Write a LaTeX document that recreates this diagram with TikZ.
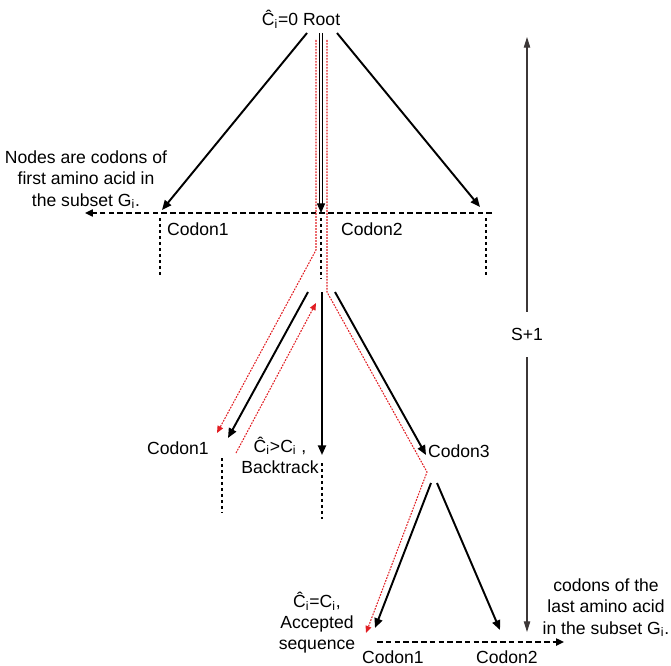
\documentclass[tikz,border=0pt]{standalone}
\usepackage{fontspec}
\setmainfont{Liberation Sans}
\usetikzlibrary{arrows.meta}
\definecolor{tracered}{RGB}{225,30,35}
\definecolor{spangray}{RGB}{60,55,55}

\begin{document}
\begin{tikzpicture}[x=0.02cm,y=-0.02cm,
    branch/.style={line width=1.1pt,-{Triangle[length=5.5pt,width=4.6pt]}},
    levelline/.style={line width=1.1pt,dash pattern=on 3.2pt off 1.8pt,-{Triangle[length=4.5pt,width=4pt]}},
    stub/.style={line width=1.1pt,dash pattern=on 1.7pt off 1.7pt},
    trace/.style={tracered,line width=0.6pt,dash pattern=on 1pt off 0.7pt,-{Triangle[length=4pt,width=3.4pt]}},
    lbl/.style={font=\fontsize{10}{12}\selectfont,inner sep=1pt,align=center}]
  \useasboundingbox (0,0) rectangle (671,665);

  %% Root
  \node[lbl] (root) at (301,19) {Ĉ\textsubscript{i}=0 Root};
  \coordinate (r1) at (307,33);
  \coordinate (r2) at (321,33);
  \coordinate (r3) at (337,33);

  %% First level
  \coordinate (a1) at (162,210);
  \coordinate (a2) at (321,213);
  \coordinate (a3) at (480,207);
  \draw[branch] (r1) -- (a1);
  \draw[branch,double=white,double distance=0.9pt,line width=0.6pt] (r2) -- (a2);
  \draw[branch] (r3) -- (a3);
  \coordinate (hR) at (492,213);
  \coordinate (hL) at (85,213);
  \draw[levelline] (hR) -- (hL);
  \draw[stub] (160,218) -- (160,277);
  \draw[stub] (321,218) -- (321,279);
  \draw[stub] (486,218) -- (486,277);
  \node[lbl] (c11) at (198,229) {Codon1};
  \node[lbl] (c12) at (372,229) {Codon2};
  \node[lbl] (note1) at (86,180) {Nodes are codons of\\first amino acid in\\the subset G\textsubscript{i}.};

  %% Second level
  \coordinate (b0) at (308,292);
  \coordinate (b1) at (228,438);
  \coordinate (m0) at (322,292);
  \coordinate (m1) at (322,455);
  \coordinate (d0) at (335,292);
  \coordinate (d1) at (426,455);
  \draw[branch] (b0) -- (b1);
  \draw[branch] (m0) -- (m1);
  \draw[branch] (d0) -- (d1);
  \draw[stub] (222,458) -- (222,513);
  \draw[stub] (322,463) -- (322,519);
  \node[lbl] (c21) at (178,448) {Codon1};
  \node[lbl] (back) at (280,455) {Ĉ\textsubscript{i}>C\textsubscript{i} ,\\Backtrack};
  \node[lbl] (c23) at (459,451) {Codon3};

  %% Third level
  \coordinate (e0) at (431,483);
  \coordinate (e1) at (375,628);
  \coordinate (f0) at (437,483);
  \coordinate (f1) at (500,630);
  \draw[branch] (e0) -- (e1);
  \draw[branch] (f0) -- (f1);
  \coordinate (gL) at (377,642);
  \coordinate (gR) at (564,642);
  \draw[levelline] (gL) -- (gR);
  \node[lbl] (c31) at (393,657) {Codon1};
  \node[lbl] (c32) at (507,657) {Codon2};
  \node[lbl] (acc) at (317,623) {Ĉ\textsubscript{i}=C\textsubscript{i},\\Accepted\\sequence};
  \node[lbl] (note2) at (606,608) {codons of the\\last amino acid\\in the subset G\textsubscript{i}.};

  %% Search trace
  \draw[trace] (316,40) -- (316,250) -- (217,433);
  \draw[trace] (236,453) -- (316,303);
  \draw[trace] (327,40) -- (327,292) -- (427,472) -- (366,633);

  %% Depth
  \coordinate (sTop) at (527,37);
  \coordinate (sBot) at (527,632);
  \draw[spangray,line width=0.6pt,{Triangle[length=6pt,width=3.6pt]}-{Triangle[length=6pt,width=3.6pt]}]
    (sTop) -- node[lbl,fill=white,text=black,inner ysep=9pt] (span) {S+1} (sBot);
\end{tikzpicture}
\end{document}
